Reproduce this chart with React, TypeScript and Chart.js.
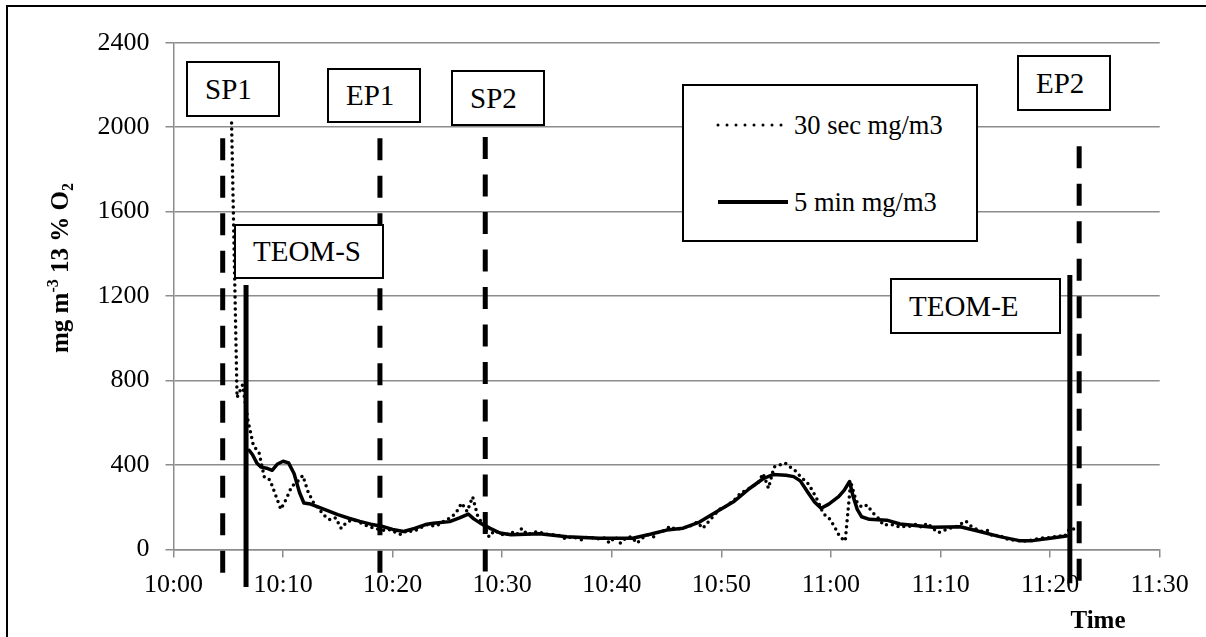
import React, { useEffect, useRef } from 'react';
import { Chart, registerables } from 'chart.js';

Chart.register(...registerables);

// ---------- data ----------
// x values are minutes after 10:00
const xTickMinutes = [0, 10, 20, 30, 40, 50, 60, 70, 80, 90];
const xTickLabels = ['10:00', '10:10', '10:20', '10:30', '10:40', '10:50', '11:00', '11:10', '11:20', '11:30'];
const yTicks = [0, 400, 800, 1200, 1600, 2000, 2400];

// 30 second readings, first reading at 10:05:18, one every 30 s
const thirtySecStartMin = 5.3;
const thirtySecStepMin = 0.5;
const thirtySecValues = [
  2020, 720, 780, 610, 490, 460, 340, 330, 260, 190,
  240, 300, 320, 350, 270, 220, 190, 160, 140, 150,
  100, 130, 140, 135, 120, 110, 100, 95, 90, 95,
  80, 70, 90, 85, 95, 110, 120, 110, 120, 140,
  150, 175, 220, 180, 250, 150, 120, 60, 90, 75,
  65, 85, 70, 100, 70, 80, 85, 75, 70, 70,
  65, 50, 60, 55, 45, 60, 55, 50, 55, 30,
  60, 30, 55, 60, 30, 55, 70, 60, 85, 90,
  110, 95, 100, 105, 115, 130, 100, 130, 160, 190,
  200, 220, 240, 270, 280, 300, 310, 360, 290, 390,
  400, 410, 390, 370, 340, 320, 280, 230, 170, 150,
  110, 60, 40, 320, 230, 200, 210, 175, 150, 115,
  120, 115, 105, 110, 110, 120, 105, 125, 100, 80,
  90, 100, 105, 120, 135, 110, 95, 85, 90, 60,
  70, 55, 45, 45, 40, 40, 45, 50, 55, 55,
  60, 65, 60, 100, 95, 100,
];

// 5 minute running values
const fiveMinTimes = [
  6.9, 7.2, 7.6, 8.0, 8.5, 9.0, 9.5, 10.0, 10.5, 11.0,
  11.5, 11.9, 12.5, 13.0, 14.0, 15.0, 16.0, 17.0, 18.0, 19.0,
  20.0, 21.0, 22.0, 23.0, 23.7, 25.2, 26.1, 26.9, 27.4, 28.0,
  28.9, 29.8, 30.8, 33.4, 35.9, 38.9, 41.9, 43.5, 45.0, 46.5,
  48.0, 49.6, 51.1, 52.6, 53.8, 54.7, 55.9, 56.6, 57.2, 57.9,
  58.5, 59.1, 59.8, 60.7, 61.2, 61.7, 62.0, 62.4, 62.8, 63.5,
  65.1, 66.3, 69.3, 71.8, 73.3, 75.4, 77.2, 78.4, 80.0, 81.5,
];
const fiveMinValues = [
  470, 450, 410, 390, 385, 375, 405, 418, 410, 360,
  270, 220, 215, 205, 185, 165, 148, 133, 120, 110,
  95, 85, 100, 118, 124, 132, 150, 168, 145, 125,
  100, 78, 70, 75, 60, 53, 53, 72, 92, 101,
  130, 180, 226, 290, 335, 355, 352, 345, 325, 270,
  225, 195, 215, 250, 280, 322, 255, 190, 155, 143,
  139, 121, 105, 108, 89, 61, 42, 42, 53, 64,
];

// event markers (minutes after 10:00) and their vertical extent in mg/m3
const markerNames = ['SP1', 'TEOM-S', 'EP1', 'SP2', 'TEOM-E', 'EP2'];
const markerTimes = [4.49, 6.62, 18.84, 28.45, 81.8, 82.65];
const markerTop = [1948, 1252, 1948, 1954, 1300, 1910];
const markerBottom = [-135, -178, -111, -111, -160, -168];
const markerDashed = [true, false, true, true, false, true];

const legendLabels = ['30 sec mg/m3', '5 min mg/m3'];

// ---------- styles ----------
const SERIF = "'Liberation Serif', 'Times New Roman', Times, serif";
const GRID = '#8c8c8c';

const boxStyles: Record<string, { left: number; top: number; w: number; h: number }> = {
  SP1: { left: 186, top: 61, w: 94, h: 56 },
  EP1: { left: 327, top: 68, w: 94, h: 55 },
  SP2: { left: 451, top: 70, w: 94, h: 56 },
  'TEOM-S': { left: 234, top: 224, w: 150, h: 55 },
  EP2: { left: 1017, top: 55, w: 94, h: 56 },
  'TEOM-E': { left: 890, top: 278, w: 171, h: 56 },
};

const titlePlugin = {
  id: 'axisTitles',
  afterDraw(chart: any) {
    const ctx = chart.ctx as CanvasRenderingContext2D;
    ctx.save();
    ctx.fillStyle = '#000';
    // y axis title, rotated
    const big = `bold 25px ${SERIF}`;
    const small = `bold 16px ${SERIF}`;
    const parts: [string, string, number][] = [
      ['mg m', big, 0],
      ['-3', small, -10],
      [' 13 % O', big, 0],
      ['2', small, 5],
    ];
    let total = 0;
    for (const p of parts) {
      ctx.font = p[1];
      total += ctx.measureText(p[0]).width;
    }
    ctx.translate(68, 268);
    ctx.rotate(-Math.PI / 2);
    ctx.textBaseline = 'alphabetic';
    ctx.textAlign = 'left';
    let x = -total / 2;
    for (const p of parts) {
      ctx.font = p[1];
      ctx.fillText(p[0], x, p[2]);
      x += ctx.measureText(p[0]).width;
    }
    ctx.restore();

    ctx.save();
    ctx.fillStyle = '#000';
    ctx.font = `bold 25px ${SERIF}`;
    ctx.textAlign = 'center';
    ctx.textBaseline = 'alphabetic';
    ctx.fillText('Time', 1098, 628);
    ctx.restore();
  },
};

export default function App() {
  const canvasRef = useRef<HTMLCanvasElement | null>(null);

  useEffect(() => {
    const canvas = canvasRef.current;
    if (!canvas) return;

    const thirtySecData = thirtySecValues.map((v, i) => ({
      x: thirtySecStartMin + i * thirtySecStepMin,
      y: v,
    }));
    const fiveMinData = fiveMinTimes.map((t, i) => ({ x: t, y: fiveMinValues[i] }));

    const markerSets = markerNames.map((name, i) => ({
      label: name,
      data: [
        { x: markerTimes[i], y: markerTop[i] },
        { x: markerTimes[i], y: markerBottom[i] },
      ],
      borderColor: '#000',
      borderWidth: 5,
      borderDash: markerDashed[i] ? [22, 15.5] : [],
      borderCapStyle: 'butt' as const,
      pointRadius: 0,
      clip: false as any,
      order: 1,
    }));

    const chart = new Chart(canvas, {
      type: 'line',
      data: {
        datasets: [
          {
            label: legendLabels[0],
            data: thirtySecData,
            borderColor: '#000',
            borderWidth: 3.5,
            borderDash: [0, 6],
            borderCapStyle: 'round',
            pointRadius: 0,
            tension: 0,
            order: 3,
          },
          {
            label: legendLabels[1],
            data: fiveMinData,
            borderColor: '#000',
            borderWidth: 3.5,
            borderJoinStyle: 'round',
            borderCapStyle: 'round',
            pointRadius: 0,
            tension: 0,
            order: 2,
          },
          ...markerSets,
        ] as any,
      },
      options: {
        animation: false,
        responsive: false,
        maintainAspectRatio: false,
        events: [],
        layout: { padding: { top: 42.7, right: 46.3, bottom: 0, left: 0 } },
        plugins: {
          legend: { display: false },
          tooltip: { enabled: false },
          title: { display: false },
        },
        scales: {
          x: {
            type: 'linear',
            min: 0,
            max: 90,
            afterBuildTicks: (scale: any) => {
              scale.ticks = xTickMinutes.map((v) => ({ value: v }));
            },
            afterFit: (scale: any) => {
              scale.height = 87.5;
            },
            ticks: {
              autoSkip: false,
              maxRotation: 0,
              color: '#000',
              padding: 12,
              font: { family: SERIF, size: 26 },
              callback: (_v: any, index: number) => xTickLabels[index],
            },
            grid: {
              display: true,
              drawOnChartArea: false,
              drawTicks: true,
              tickLength: 8,
              color: GRID,
              lineWidth: 1.5,
            },
            border: { display: true, color: GRID, width: 1.5 },
          },
          y: {
            type: 'linear',
            min: 0,
            max: 2400,
            afterBuildTicks: (scale: any) => {
              scale.ticks = yTicks.map((v) => ({ value: v }));
            },
            afterFit: (scale: any) => {
              scale.width = 173.5;
            },
            ticks: {
              color: '#000',
              padding: 16,
              font: { family: SERIF, size: 26 },
              callback: (v: any) => String(v),
            },
            grid: {
              color: GRID,
              lineWidth: 1.5,
              tickLength: 8,
              drawTicks: true,
            },
            border: { display: true, color: GRID, width: 1.5 },
          },
        },
      },
      plugins: [titlePlugin],
    });

    return () => chart.destroy();
  }, []);

  return (
    <div
      style={{
        position: 'fixed',
        left: 0,
        top: 0,
        width: 1206,
        height: 637,
        background: '#fff',
        overflow: 'hidden',
      }}
    >
      <canvas ref={canvasRef} width={1206} height={637} style={{ position: 'absolute', left: 0, top: 0 }} />
      {/* outer frame (only top and left edges are inside the picture) */}
      <div
        style={{
          position: 'absolute',
          left: 6,
          top: 5,
          width: 1400,
          height: 800,
          borderTop: '2px solid #000',
          borderLeft: '2px solid #000',
          pointerEvents: 'none',
        }}
      />
      {markerNames.map((name) => {
        const b = boxStyles[name];
        return (
          <div
            key={name}
            style={{
              position: 'absolute',
              left: b.left,
              top: b.top,
              width: b.w,
              height: b.h,
              boxSizing: 'border-box',
              border: '2px solid #000',
              background: '#fff',
              display: 'flex',
              alignItems: 'center',
              paddingLeft: 17,
              fontFamily: SERIF,
              fontSize: 29,
              color: '#000',
              lineHeight: 1,
              whiteSpace: 'nowrap',
            }}
          >
            {name}
          </div>
        );
      })}
      {/* legend */}
      <div
        style={{
          position: 'absolute',
          left: 682,
          top: 84,
          width: 296,
          height: 158,
          boxSizing: 'border-box',
          border: '2px solid #000',
          background: '#fff',
        }}
      />
      <svg
        width={1206}
        height={637}
        style={{ position: 'absolute', left: 0, top: 0, pointerEvents: 'none' }}
      >
        <line x1={718} y1={125} x2={782} y2={125} stroke="#000" strokeWidth={3} strokeLinecap="round" strokeDasharray="0 9" />
        <line x1={718} y1={202} x2={788} y2={202} stroke="#000" strokeWidth={4} />
      </svg>
      {legendLabels.map((t, i) => (
        <div
          key={t}
          style={{
            position: 'absolute',
            left: 794,
            top: i === 0 ? 105 : 182,
            height: 40,
            display: 'flex',
            alignItems: 'center',
            fontFamily: SERIF,
            fontSize: 26.5,
            color: '#000',
            lineHeight: 1,
            whiteSpace: 'nowrap',
          }}
        >
          {t}
        </div>
      ))}
    </div>
  );
}
